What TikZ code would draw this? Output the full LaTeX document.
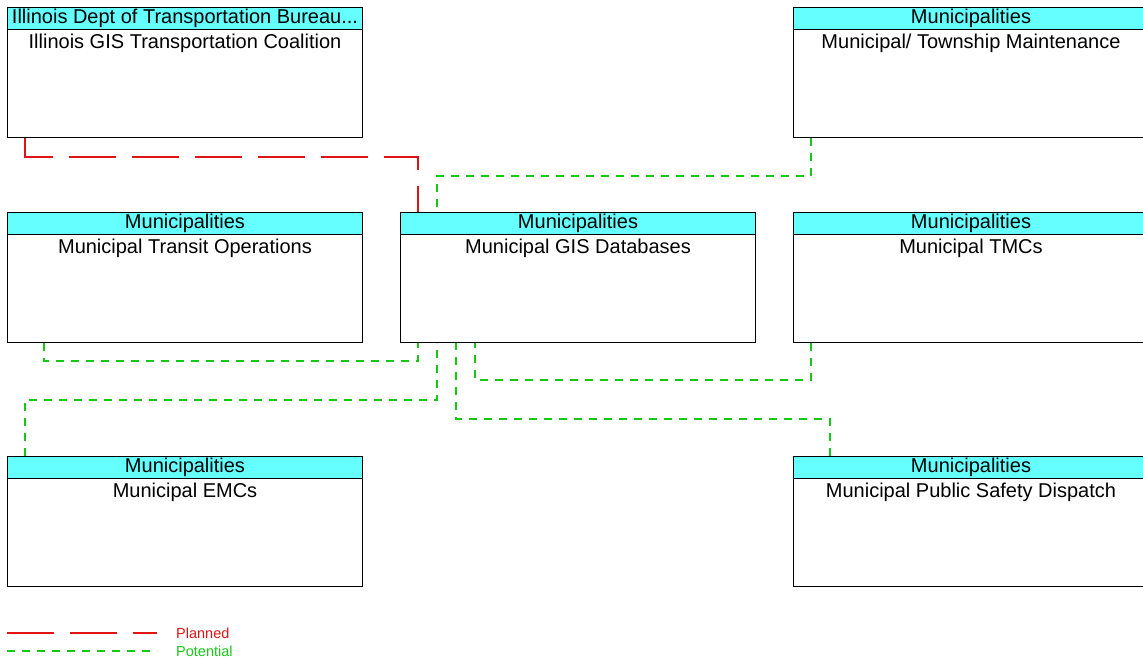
\documentclass[tikz,border=0pt]{standalone}
\usepackage{fontspec}
\setmainfont{Liberation Sans}
\definecolor{hdrcyan}{RGB}{102,255,255}
\definecolor{plancol}{RGB}{225,20,20}
\definecolor{potcol}{RGB}{20,200,20}
\tikzset{
  box/.style={draw,line width=1pt,minimum width=355pt,minimum height=130pt,anchor=north west,inner sep=0pt},
  hdr/.style={draw,line width=1pt,fill=hdrcyan,minimum width=355pt,minimum height=22pt,anchor=north,inner sep=0pt,font=\fontsize{20}{22}\selectfont},
  ttl/.style={anchor=north,inner sep=0pt,font=\fontsize{20}{22}\selectfont},
  planned/.style={draw=plancol,line width=1.3pt,dash pattern=on 47pt off 16pt},
  potential/.style={draw=potcol,line width=1.3pt,dash pattern=on 8pt off 7pt},
}
\begin{document}
\begin{tikzpicture}[x=1pt,y=-1pt]
                \useasboundingbox (0,0) rectangle (1143,660);
                % boxes
                \node[box] (coal) at (7,7) {};
                \node[hdr] (coal-h) at (coal.north) {Illinois Dept of Transportation Bureau...};
                \node[ttl] (coal-t) at ([yshift=-27pt]coal.north) {Illinois GIS Transportation Coalition};
                \node[box] (maint) at (793,7) {};
                \node[hdr] (maint-h) at (maint.north) {Municipalities};
                \node[ttl] (maint-t) at ([yshift=-27pt]maint.north) {Municipal/ Township Maintenance};
                \node[box] (trans) at (7,212) {};
                \node[hdr] (trans-h) at (trans.north) {Municipalities};
                \node[ttl] (trans-t) at ([yshift=-27pt]trans.north) {Municipal Transit Operations};
                \node[box] (gis) at (400,212) {};
                \node[hdr] (gis-h) at (gis.north) {Municipalities};
                \node[ttl] (gis-t) at ([yshift=-27pt]gis.north) {Municipal GIS Databases};
                \node[box] (tmc) at (793,212) {};
                \node[hdr] (tmc-h) at (tmc.north) {Municipalities};
                \node[ttl] (tmc-t) at ([yshift=-27pt]tmc.north) {Municipal TMCs};
                \node[box] (emc) at (7,456) {};
                \node[hdr] (emc-h) at (emc.north) {Municipalities};
                \node[ttl] (emc-t) at ([yshift=-27pt]emc.north) {Municipal EMCs};
                \node[box] (psd) at (793,456) {};
                \node[hdr] (psd-h) at (psd.north) {Municipalities};
                \node[ttl] (psd-t) at ([yshift=-27pt]psd.north) {Municipal Public Safety Dispatch};
                % flows
                \draw[planned] ([xshift=18pt]coal.south west) -- ++(0,19) -| ([xshift=18pt]gis-h.north west);
                \draw[potential] ([xshift=18pt]maint.south west) -- ++(0,38) -| ([xshift=37pt]gis-h.north west);
                \draw[potential] ([xshift=37pt]trans.south west) -- ++(0,18) -| ([xshift=18pt]gis.south west);
                \draw[potential] ([xshift=18pt]tmc.south west) -- ++(0,37) -| ([xshift=75pt]gis.south west);
                \draw[potential] ([xshift=18pt]emc-h.north west) -- ++(0,-56) -| ([xshift=37pt]gis.south west);
                \draw[potential] ([xshift=37pt]psd-h.north west) -- ++(0,-37) -| ([xshift=56pt]gis.south west);
                % legend
                \coordinate (pl-a) at (7,633);
                \coordinate (pl-b) at (157,633);
                \coordinate (po-a) at (7,651);
                \coordinate (po-b) at (157,651);
                \draw[planned] (pl-a) -- (pl-b);
                \draw[potential] (po-a) -- (po-b);
                \node[anchor=west,inner sep=0pt,text=plancol,font=\fontsize{14.5}{16}\selectfont] (pl-t) at (176,633) {Planned};
                \node[anchor=west,inner sep=0pt,text=potcol,font=\fontsize{14.5}{16}\selectfont] (po-t) at (176,651) {Potential};
            \end{tikzpicture}
\end{document}
